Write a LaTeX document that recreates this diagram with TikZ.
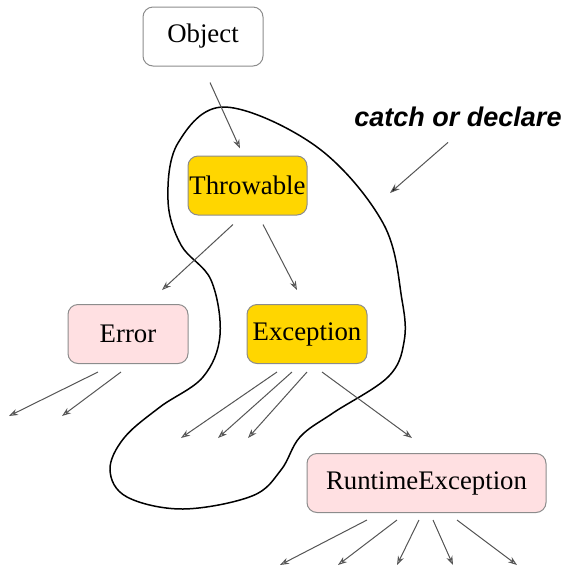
\documentclass[tikz,border=0pt]{standalone}
\usepackage{fontspec}
\setmainfont{Liberation Serif}
\newfontfamily\catchfont{Liberation Sans}
\usepackage{tikz}
\usetikzlibrary{shapes,arrows.meta,backgrounds,calc}

\definecolor{goldbox}{RGB}{255,214,0}
\definecolor{pinkbox}{RGB}{255,224,226}
\definecolor{boxline}{RGB}{140,140,140}
\definecolor{arrline}{RGB}{85,85,85}

\begin{document}
\begin{tikzpicture}[x=0.5pt,y=-0.5pt,
    every node/.style={draw=boxline,line width=0.5pt,rounded corners=5pt,
      inner sep=0pt,minimum height=29.5pt,font=\fontsize{13.4}{15}\selectfont},
    checked/.style={fill=goldbox},
    unchecked/.style={fill=pinkbox},
    inherit/.style={draw=arrline,line width=0.5pt,-{Stealth[length=4.5pt,width=3.2pt,open]}}]

  \useasboundingbox (0,0) rectangle (564,569);

  % Specification of nodes (position, etc.)
  \node[minimum width=60pt] (obj) at (203,36.5) {Object};
  \node[checked,minimum width=59.5pt] (thr) at (247.5,185.5) {Throwable};
  \node[unchecked,minimum width=60pt] (err) at (128,334) {Error};
  \node[checked,minimum width=60pt] (exc) at (307,334) {Exception};
  \node[unchecked,minimum width=119.5pt] (rte) at (426.5,483) {RuntimeException};
  \node[draw=none,rounded corners=0pt,minimum height=0pt,
    font=\catchfont\bfseries\itshape\fontsize{13.5}{15}\selectfont] (cod) at (458,117) {catch or declare};

  % free ends of the subclass arrows
  \coordinate (e1) at (9,416);
  \coordinate (e2) at (62,416);
  \coordinate (x1) at (181,438);
  \coordinate (x2) at (218,438);
  \coordinate (x3) at (248,438);
  \coordinate (r1) at (280,565);
  \coordinate (r2) at (338,565);
  \coordinate (r3) at (397,565);
  \coordinate (r4) at (453,565);
  \coordinate (r5) at (517,565);
  \coordinate (blob) at (390,193);

  % the checked region
  \draw[line width=0.75pt] plot[smooth cycle,tension=0.6] coordinates {
    (225,107) (317,147) (383,223) (402,300) (404,342) (388,377) (333,413)
    (300,437) (281,470) (252,496) (183,509) (127,497) (110,470) (124,438)
    (160,407) (203,377) (220,335) (211,280) (181,245) (168,200) (178,143)};

  \begin{scope}
    \draw[inherit] ($(obj.south)+(7,16)$) -- ($(thr.north)+(-7.5,-7)$);
    \draw[inherit] ($(thr.south)+(-14.5,9)$) -- ($(err.north)+(34,-14)$);
    \draw[inherit] ($(thr.south)+(15.5,9)$) -- ($(exc.north)+(-10,-14)$);

    \draw[inherit] ($(err.south)+(-30,8)$) -- (e1);
    \draw[inherit] ($(err.south)+(-7,8)$) -- (e2);

    \draw[inherit] ($(exc.south)+(-30,8)$) -- (x1);
    \draw[inherit] ($(exc.south)+(-15,8)$) -- (x2);
    \draw[inherit] ($(exc.south)+(0,8)$) -- (x3);
    \draw[inherit] ($(exc.south)+(15,8)$) -- ($(rte.north)+(-14.5,-15)$);

    \draw[inherit] ($(rte.south)+(-59.5,7)$) -- (r1);
    \draw[inherit] ($(rte.south)+(-29.5,7)$) -- (r2);
    \draw[inherit] ($(rte.south)+(-7.5,7)$) -- (r3);
    \draw[inherit] ($(rte.south)+(6.5,7)$) -- (r4);
    \draw[inherit] ($(rte.south)+(30.5,7)$) -- (r5);
  \end{scope}

  \draw[draw=arrline,line width=0.5pt,-{Stealth[length=5pt,width=3.5pt,fill=black]}]
    ($(cod.south)+(-10,15)$) -- (blob);

\end{tikzpicture}
\end{document}
